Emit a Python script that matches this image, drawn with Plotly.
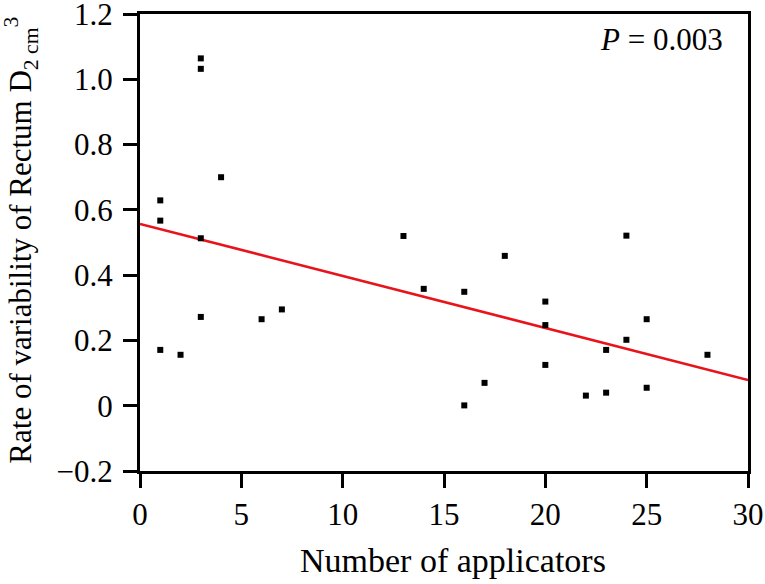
import plotly.graph_objects as go

# number of applicators vs rate of variability
applicators = [1, 1, 1, 2, 3, 3, 3, 3, 4, 6, 7, 13, 14, 16, 16, 17, 18,
               20, 20, 20, 22, 23, 23, 24, 24, 25, 25, 28]
variability = [0.629, 0.567, 0.171, 0.156, 1.064, 1.032, 0.513, 0.272,
               0.700, 0.265, 0.295, 0.520, 0.358, 0.349, 0.001, 0.070,
               0.459, 0.319, 0.247, 0.125, 0.031, 0.171, 0.040, 0.521,
               0.202, 0.265, 0.055, 0.156]

# regression line end points
fit_x = [0, 30]
fit_y = [0.557, 0.079]

x_ticks = [0, 5, 10, 15, 20, 25, 30]
y_ticks = [-0.2, 0, 0.2, 0.4, 0.6, 0.8, 1.0, 1.2]
y_ticktext = ["\u22120.2", "0", "0.2", "0.4", "0.6", "0.8", "1.0", "1.2"]

FONT = "Liberation Serif, Times New Roman, serif"

fig = go.Figure()

fig.add_trace(go.Scatter(
    x=fit_x, y=fit_y, mode="lines",
    line=dict(color="#e8141c", width=2.5),
    showlegend=False
))

fig.add_trace(go.Scatter(
    x=applicators, y=variability, mode="markers",
    marker=dict(symbol="square", size=6, color="black"),
    showlegend=False
))

fig.add_annotation(
    xref="paper", yref="paper", x=0.962, y=0.945,
    xanchor="right", yanchor="middle",
    text="<i>P</i> = 0.003", showarrow=False,
    font=dict(family=FONT, size=31, color="black")
)

# axis titles placed by hand
fig.add_annotation(
    xref="paper", yref="paper", x=0.514, y=-0.195,
    xanchor="center", yanchor="middle",
    text="Number of applicators", showarrow=False,
    font=dict(family=FONT, size=34, color="black")
)
fig.add_annotation(
    xref="paper", yref="paper", x=-0.195, y=0.505,
    xanchor="center", yanchor="middle", textangle=-90,
    text="Rate of variability of Rectum D<sub>2 cm</sub><sup>3</sup>",
    showarrow=False,
    font=dict(family=FONT, size=31, color="black")
)

axis_common = dict(
    showgrid=False, zeroline=False, automargin=False,
    showline=True, linecolor="black", linewidth=3, mirror=True,
    ticks="outside", ticklen=14, tickwidth=3, tickcolor="black",
    ticklabeloverflow="allow",
    tickfont=dict(family=FONT, size=31, color="black"),
)

fig.update_layout(
    xaxis=dict(range=[0, 30], tickvals=x_ticks, **axis_common),
    yaxis=dict(range=[-0.2, 1.2], tickvals=y_ticks, ticktext=y_ticktext,
               ticklabelstandoff=4, **axis_common),
    plot_bgcolor="white",
    paper_bgcolor="white",
    width=765, height=584,
    margin=dict(l=140, r=17, t=14, b=113),
)

fig.write_html("out.html", config={"displayModeBar": False},
               post_script="document.body.style.margin='0px';")
